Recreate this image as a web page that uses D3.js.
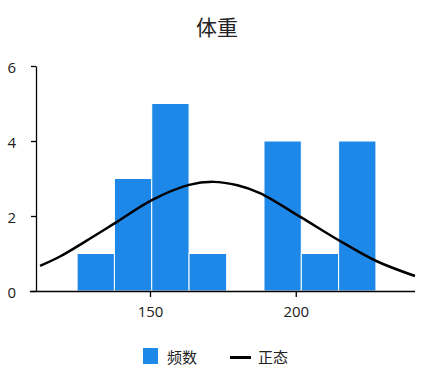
<!DOCTYPE html>
<html>
<head>
<meta charset="utf-8">
<script src="https://cdn.jsdelivr.net/npm/d3@7"></script>
<style>
  body { margin: 0; background: #fff; }
  svg text { font-family: "Noto Sans CJK SC", "Noto Sans", sans-serif; }
</style>
</head>
<body>
<svg id="chart" width="423" height="380"></svg>
<script>
// histogram bins (edges) and counts
const binEdges = [125, 137.8, 150.6, 163.4, 176.3, 189.1, 201.9, 214.7, 227.5];
const counts = [1, 3, 5, 1, 0, 4, 1, 4];

// normal curve, points
const curveX = [112.3, 119.1, 128, 138.0, 150.8, 163.4, 171.7, 180, 187.7, 201.7, 214.6, 227.6, 240.9];
const curveY = [0.67, 0.92, 1.33, 1.81, 2.43, 2.83, 2.91, 2.82, 2.61, 1.97, 1.36, 0.80, 0.40];

const xTicks = [150, 200];
const yTicks = [0, 2, 4, 6];

const title = '体重';
const legendLabels = ['频数', '正态'];

const svg = d3.select('#chart');
const plotLeft = 36, plotRight = 415, plotTop = 66, plotBottom = 291;

const x = d3.scaleLinear().domain([110.9, 240.9]).range([plotLeft, plotRight]);
const y = d3.scaleLinear().domain([0, 6]).range([plotBottom, plotTop]);

svg.append('text')
  .attr('x', 217).attr('y', 35)
  .attr('text-anchor', 'middle')
  .attr('font-size', 21)
  .attr('fill', '#222')
  .text(title);

// bars
const bins = counts.map((c, i) => ({x0: binEdges[i], x1: binEdges[i + 1], c}));
svg.append('g')
  .selectAll('rect')
  .data(bins.filter(d => d.c > 0))
  .enter()
  .append('rect')
    .attr('x', d => x(d.x0))
    .attr('y', d => y(d.c))
    .attr('width', d => x(d.x1) - x(d.x0))
    .attr('height', d => y(0) - y(d.c))
    .attr('fill', '#1e88e8')
    .attr('stroke', '#fff')
    .attr('stroke-width', 1);

// normal curve
const line = d3.line()
  .x(d => x(d[0]))
  .y(d => y(d[1]))
  .curve(d3.curveCatmullRom);

svg.append('path')
  .attr('d', line(curveX.map((v, i) => [v, curveY[i]])))
  .attr('fill', 'none')
  .attr('stroke', '#000')
  .attr('stroke-width', 2.5);

// axes
const xAxis = svg.append('g')
  .attr('transform', `translate(0,${plotBottom})`)
  .call(d3.axisBottom(x).tickValues(xTicks).tickSize(6).tickSizeOuter(0).tickPadding(9));
xAxis.select('.domain').attr('d', `M${plotLeft - 6},0.5H${plotRight}`);

const yAxis = svg.append('g')
  .attr('transform', `translate(${plotLeft},0)`)
  .call(d3.axisLeft(y).tickValues(yTicks).tickFormat(d3.format('d')).tickSize(5).tickSizeOuter(0).tickPadding(15));

[xAxis, yAxis].forEach(g => {
  g.selectAll('.domain').attr('stroke', '#000').attr('stroke-width', 1.3);
  g.selectAll('.tick line').attr('stroke', '#000').attr('stroke-width', 1.3);
  g.selectAll('.tick text')
    .attr('font-size', 15)
    .attr('fill', '#222')
    .style('font-family', '"Open Sans", "Noto Sans", sans-serif');
});
yAxis.selectAll('.tick text').attr('dy', '0.45em');

// legend
const legend = svg.append('g');
legend.append('rect')
  .attr('x', 143).attr('y', 348)
  .attr('width', 15).attr('height', 16)
  .attr('fill', '#1e88e8');
legend.append('text')
  .attr('x', 167).attr('y', 363)
  .attr('font-size', 15)
  .attr('fill', '#222')
  .text(legendLabels[0]);
legend.append('line')
  .attr('x1', 230).attr('x2', 251)
  .attr('y1', 357.5).attr('y2', 357.5)
  .attr('stroke', '#000')
  .attr('stroke-width', 3);
legend.append('text')
  .attr('x', 258).attr('y', 363)
  .attr('font-size', 15)
  .attr('fill', '#222')
  .text(legendLabels[1]);
</script>
</body>
</html>
